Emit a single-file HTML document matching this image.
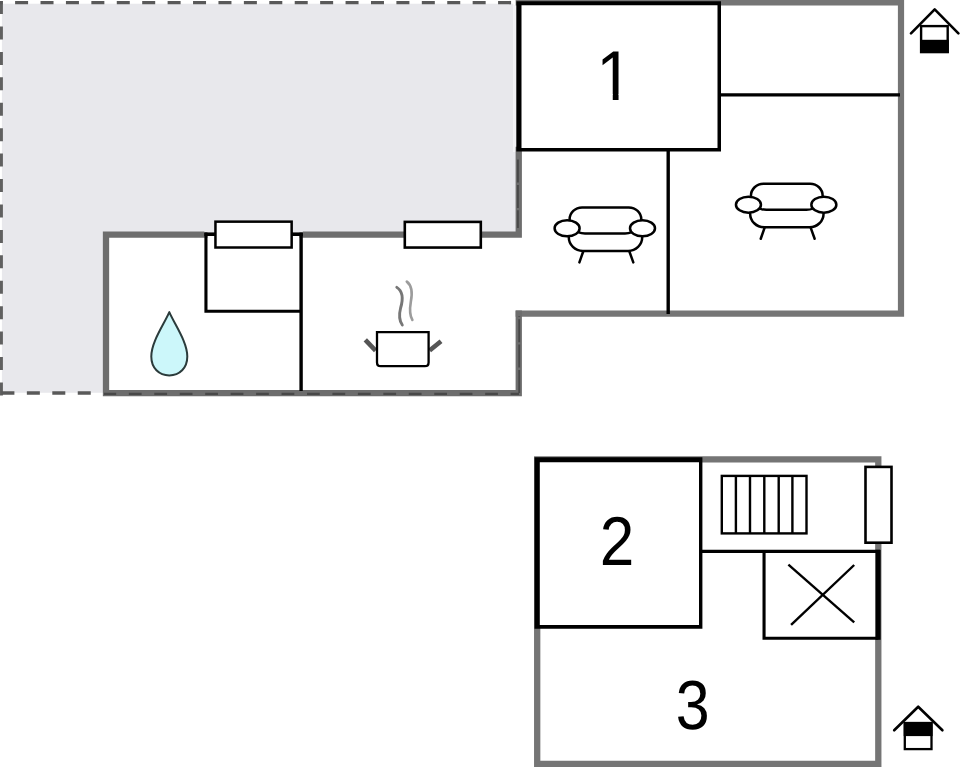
<!DOCTYPE html>
<html lang="en">
<head>
<meta charset="utf-8">
<title>Floor plan</title>
<style>
html,body{margin:0;padding:0;background:#fff;}
body{width:960px;height:767px;overflow:hidden;}
svg{display:block;}
text{font-family:"Liberation Sans",Arial,sans-serif;fill:#000;text-rendering:geometricPrecision;}
</style>
</head>
<body>
<svg width="960" height="767" viewBox="0 0 960 767">
<rect width="960" height="767" fill="#fff"/>

<!-- terrace fill -->
<path d="M1.9,3.8 H513.4 V152 H519 V234.7 H106 V392.8 H1.9 Z" fill="#e8e8ec"/>

<rect x="513.4" y="5" width="3" height="147" fill="#f2f2f5"/>
<!-- terrace dashed outline -->
<g fill="none" stroke="#595959">
<path d="M1.35,1.1 V396" stroke-width="3.1" stroke="#606060" stroke-dasharray="13 12.42"/>
<path d="M-10.32,2.65 H514" stroke-width="3.4" stroke-dasharray="13 12.42"/>
<path d="M1.4,393 H104" stroke-width="3.3" stroke-dasharray="13 12.45"/>
</g>

<!-- upper plan walls -->
<path d="M518.75,2.5 H901 V313.7 H518.75" fill="none" stroke="#757575" stroke-width="6.2" stroke-linejoin="miter" stroke-linecap="square"/>
<path d="M518.75,150 V234.7 H106 V393.2 H518.75 V313.7" fill="none" stroke="#6d6d6d" stroke-width="6.3" stroke-linejoin="miter" stroke-linecap="square"/>
<rect x="204.4" y="230" width="98.4" height="2.7" fill="#e8e8ec"/>
<rect x="207.5" y="235.8" width="92" height="2.6" fill="#fff"/>
<!-- darker dash overlay on walls -->
<g fill="none" stroke="#484848" stroke-width="2.1">
<path d="M104,393.9 H519" stroke-dasharray="12.75 12.7" stroke-dashoffset="0.6"/>
<path d="M519.2,393 V316" stroke-width="1.8" stroke-dasharray="23 2.4"/>
<path d="M517.9,159.5 V228" stroke-width="1.9" stroke-dasharray="23 2.4"/>
</g>

<!-- upper plan interior lines -->
<g fill="none" stroke="#000" stroke-width="3.4" stroke-linejoin="miter">
<path d="M301.1,232.6 V391"/>
<path d="M205.95,232.6 V311.25 H301" stroke-width="3.1"/>
<path d="M204.4,234.25 H302.8" stroke-width="3.3"/>
<path d="M668.2,150 V314"/>
<path d="M719,94.8 H900" stroke-width="3.2"/>
</g>
<!-- room 1 -->
<path d="M516.3,1.2 H721 V151.4 H516.3 Z" fill="#000"/><path d="M521.5,5.2 H717.5 V148 H521.5 Z" fill="#fff"/>

<!-- windows upper -->
<g fill="#fff" stroke="#000" stroke-width="2.6">
<rect x="215.45" y="221.65" width="76.2" height="25.85" stroke-width="2.5"/>
<rect x="404.8" y="221.9" width="76" height="25.65"/>
</g>

<!-- water drop -->
<path d="M169.3,312.1 C163.6,325 151.3,342 151.3,356.5 C151.3,368 159,375.4 169.3,375.4 C179.6,375.4 187.3,368 187.3,356.5 C187.3,342 175,325 169.3,312.1 Z" fill="#ccf7fa" stroke="#2b3b3b" stroke-width="2" stroke-linejoin="round"/>

<!-- pot -->
<g fill="none" stroke-linecap="butt">
<path d="M365.3,339.8 L375.6,350.6" stroke="#555" stroke-width="4.6"/>
<path d="M429.6,350.6 L441,341.2" stroke="#555" stroke-width="4.6"/>
<path d="M377,332.2 H428.6 V362.5 Q428.6,366.2 424.9,366.2 H380.7 Q377,366.2 377,362.5 Z" fill="#fff" stroke="#000" stroke-width="2.3"/>
<path d="M396.8,287.4 C404,292 403,300 400.6,308 C398.8,315 399.5,321 402.3,325" stroke="#777" stroke-width="2.9" stroke-linecap="round"/>
<path d="M406.8,281.6 C412.6,286 412.4,294 410.8,302 C409.6,309 410,316 412.4,320" stroke="#9c9c9c" stroke-width="2.6" stroke-linecap="round"/>
</g>

<!-- sofas -->
<defs>
<g id="sofa" fill="none" stroke="#000" stroke-width="2.5" stroke-linecap="round" stroke-linejoin="round">
<path d="M569.6,220 V219.4 A12.5,12 0 0 1 582.1,207.4 H628.8 A12.5,12 0 0 1 641.3,219.4 V220"/>
<path d="M579,232.4 Q581,233.4 585,233.4 H625 Q629,233.4 631,232.4"/>
<path d="M568.8,237.3 A14,13.6 0 0 0 582.8,250.9 H628.2 A14,13.6 0 0 0 642.2,237.3"/>
<path d="M583.2,251.5 L579.4,262.4"/>
<path d="M629.4,251.5 L633.3,262.4"/>
<ellipse cx="567.1" cy="228.3" rx="12.5" ry="8" fill="#fff"/>
<ellipse cx="642.5" cy="228.3" rx="12.5" ry="8" fill="#fff"/>
</g>
</defs>
<use href="#sofa"/>
<use href="#sofa" x="181.35" y="-23.65"/>

<!-- numbers -->
<clipPath id="c1"><path d="M590,40 H625 V94 H618.55 V103 H612.76 V94 H590 Z"/></clipPath>
<g clip-path="url(#c1)"><text transform="translate(596.27,100) scale(0.93,1)" font-size="70.5">1</text></g>

<!-- house icon top -->
<g fill="none" stroke="#000">
<rect x="921.1" y="26.1" width="26.6" height="26" stroke-width="2.4" fill="#fff"/>
<rect x="920" y="39.8" width="28.8" height="13.2" fill="#000" stroke="none"/>
<path d="M911,33.3 L934.7,9.4 L958.4,33.3" stroke-width="2.6" stroke-linecap="round" stroke-linejoin="round"/>
</g>

<!-- lower plan walls -->
<path d="M537.2,459.4 H878.3 V763.9 H537.2 Z" fill="none" stroke="#757575" stroke-width="6.3"/>
<g fill="none" stroke="#000" stroke-width="3.1">
<path d="M700.5,551.4 H880"/>
<path d="M764.05,551.4 V638.3 H878.3"/>
<path d="M878.15,549.85 V639.8" stroke-width="5"/>
</g>
<path d="M534.5,457.2 H702.4 V628.7 H534.5 Z" fill="#000"/><path d="M539.8,462.2 H699 V625.1 H539.8 Z" fill="#fff"/>
<g stroke="#000" stroke-width="2.4" stroke-linecap="butt">
<path d="M788.4,564.6 L854.2,622.3"/>
<path d="M854.2,565 L791.1,624.9"/>
</g>
<!-- stairs -->
<g fill="none" stroke="#000" stroke-width="2.4">
<rect x="721.8" y="475.9" width="84.7" height="57.5" fill="#fff"/>
<path d="M735.9,476 V533 M750,476 V533 M764.3,476 V533 M778.7,476 V533 M792.4,476 V533"/>
</g>
<!-- window lower -->
<rect x="865.5" y="466.9" width="26" height="75.8" fill="#fff" stroke="#000" stroke-width="2.6"/>

<text transform="translate(599.7,565) scale(0.9,1)" font-size="69">2</text>
<text transform="translate(675.7,729) scale(0.876,1)" font-size="69.5">3</text>

<!-- house icon bottom -->
<g fill="none" stroke="#000">
<rect x="904.8" y="723" width="26.7" height="26.1" stroke-width="2.3" fill="#fff"/>
<rect x="903.7" y="722" width="28.9" height="14.1" fill="#000" stroke="none"/>
<path d="M894.2,730.3 L918.2,706.7 L942.4,730.3" stroke-width="2.6" stroke-linecap="round" stroke-linejoin="round"/>
</g>
</svg>
</body>
</html>
